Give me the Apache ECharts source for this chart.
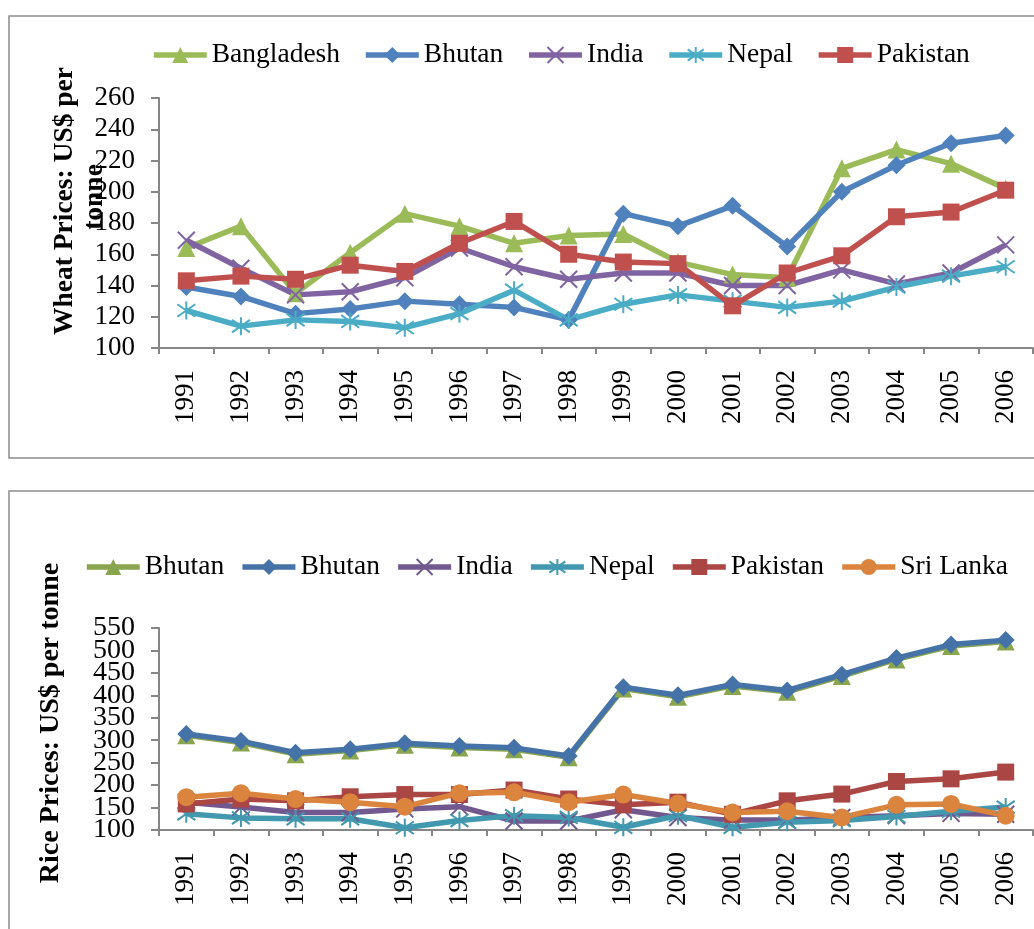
<!DOCTYPE html>
<html>
<head>
<meta charset="utf-8">
<script src="https://cdn.jsdelivr.net/npm/echarts@6/dist/echarts.min.js"></script>
<style>
  html, body { margin: 0; padding: 0; background: #fff; }
  #chart { width: 1034px; height: 929px; }
</style>
</head>
<body>
<div id="chart"></div>
<script>
// ---- Data ----
var years = ['1991','1992','1993','1994','1995','1996','1997','1998','1999','2000','2001','2002','2003','2004','2005','2006'];

var wheatBangladesh = [164, 178, 135, 161, 186, 178, 167, 172, 173, 155, 147, 145, 215, 227, 218, 202];
var wheatBhutan     = [139, 133, 122, 125, 130, 128, 126, 118, 186, 178, 191, 165, 200, 217, 231, 236];
var wheatIndia      = [169, 151, 134, 136, 145, 164, 152, 144, 148, 148, 140, 140, 150, 141, 148, 166];
var wheatNepal      = [124, 114, 118, 117, 113, 122, 137, 118, 128, 134, 130, 126, 130, 139, 146, 152];
var wheatPakistan   = [143, 146, 144, 153, 149, 167, 181, 160, 155, 154, 127, 148, 159, 184, 187, 201];

var riceBhutanA  = [311, 295, 269, 277, 290, 284, 280, 262, 415, 397, 421, 408, 443, 480, 510, 520];
var riceBhutanB  = [314, 298, 272, 280, 293, 287, 283, 265, 418, 400, 424, 411, 446, 483, 513, 523];
var riceIndia    = [162, 151, 139, 139, 147, 152, 120, 120, 145, 128, 122, 122, 128, 132, 137, 135];
var riceNepal    = [136, 127, 125, 125, 105, 121, 132, 128, 106, 132, 106, 117, 121, 130, 142, 151];
var ricePakistan = [158, 169, 165, 174, 179, 179, 189, 169, 156, 162, 135, 165, 180, 208, 214, 229];
var riceSriLanka = [173, 182, 169, 162, 152, 182, 184, 162, 179, 159, 139, 142, 128, 156, 158, 132];

var wheatTicks = { min: 100, max: 260, interval: 20 };
var riceTicks  = { min: 100, max: 550, interval: 50 };
var riceTickLabels = ['100', '150', '200', '250', '300', '350', '400', '450', '500', '550'];

var wheatLabels = ['Bangladesh', 'Bhutan', 'India', 'Nepal', 'Pakistan'];
var riceLabels  = ['Bhutan', 'Bhutan', 'India', 'Nepal', 'Pakistan', 'Sri Lanka'];

var wheatTitle1 = 'Wheat Prices: US$ per';
var wheatTitle2 = 'tonne';
var riceTitle   = 'Rice Prices: US$ per tonne';

// ---- Styles ----
var FONT = 'Liberation Serif';
var AXIS_COLOR = '#868686';
var SYM_X = 'path://M0,0L10,10M10,0L0,10';
var SYM_AST = 'path://M5,0L5,10M0.7,1.5L9.3,8.5M9.3,1.5L0.7,8.5';

var nameMap = {};
function mk(id, label, data, color, symbol, size, gi, stroke) {
  nameMap[id] = label;
  var s = {
    name: id, type: 'line', data: data,
    xAxisIndex: gi, yAxisIndex: gi,
    symbol: symbol, symbolSize: size, showSymbol: true,
    lineStyle: { color: color, width: 5.5 },
    itemStyle: { color: color },
    emphasis: { disabled: true },
    animation: false
  };
  if (stroke) {
    s.itemStyle = { color: 'none', borderColor: color, borderWidth: 2 };
  }
  return s;
}

var wheatColors = ['#9BBB59', '#4F81BD', '#8064A2', '#4BACC6', '#C0504D'];
var riceColors  = ['#89A54E', '#4572A7', '#71588F', '#4198AF', '#AA4643', '#DB843D'];

var series = [
  mk('w0', wheatLabels[0], wheatBangladesh, wheatColors[0], 'triangle', 18, 0),
  mk('w1', wheatLabels[1], wheatBhutan, wheatColors[1], 'diamond', 18, 0),
  mk('w2', wheatLabels[2], wheatIndia, wheatColors[2], SYM_X, 17, 0, true),
  mk('w3', wheatLabels[3], wheatNepal, wheatColors[3], SYM_AST, 18, 0, true),
  mk('w4', wheatLabels[4], wheatPakistan, wheatColors[4], 'rect', 17, 0),
  mk('r0', riceLabels[0], riceBhutanA, riceColors[0], 'triangle', 18, 1),
  mk('r1', riceLabels[1], riceBhutanB, riceColors[1], 'diamond', 18, 1),
  mk('r2', riceLabels[2], riceIndia, riceColors[2], SYM_X, 17, 1, true),
  mk('r3', riceLabels[3], riceNepal, riceColors[3], SYM_AST, 18, 1, true),
  mk('r4', riceLabels[4], ricePakistan, riceColors[4], 'rect', 17, 1),
  mk('r5', riceLabels[5], riceSriLanka, riceColors[5], 'circle', 18, 1)
];

function xAxis(gi) {
  return {
    type: 'category', gridIndex: gi, data: years, boundaryGap: true,
    axisLine: { show: true, lineStyle: { color: AXIS_COLOR, width: 2 } },
    axisTick: { show: true, length: 6, interval: 0, lineStyle: { color: AXIS_COLOR, width: 2 } },
    axisLabel: { rotate: 90, interval: 0, margin: 22, fontSize: 27, fontFamily: FONT, color: '#000' },
    splitLine: { show: false }
  };
}
function yAxis(gi, t, fs, showLabels) {
  return {
    type: 'value', gridIndex: gi, position: 'left', min: t.min, max: t.max, interval: t.interval,
    axisLine: { show: true, lineStyle: { color: AXIS_COLOR, width: 2 } },
    axisTick: { show: true, length: 8, lineStyle: { color: AXIS_COLOR, width: 2 } },
    axisLabel: { show: showLabels, margin: 24, fontSize: fs, fontFamily: FONT, color: '#000',
                 showMinLabel: true, showMaxLabel: true, hideOverlap: false },
    splitLine: { show: false }
  };
}
// label-only axis for the crowded rice tick labels (same positions as the value ticks)
var riceLabelAxis = {
  type: 'category', gridIndex: 1, position: 'left', offset: 0,
  data: riceTickLabels, boundaryGap: false,
  axisLine: { show: false }, axisTick: { show: false }, splitLine: { show: false },
  axisLabel: { interval: 0, margin: 24, fontSize: 28, fontFamily: FONT, color: '#000' },
  silent: true
};

var legendCommon = {
  orient: 'horizontal', itemWidth: 53, itemHeight: 20, padding: 0,
  width: 1000,
  lineStyle: { width: 5.5 },
  textStyle: { fontSize: 27.5, fontFamily: FONT, color: '#000' },
  formatter: function (n) { return nameMap[n]; },
  selectedMode: false
};

var option = {
  backgroundColor: '#fff',
  animation: false,
  grid: [
    { left: 159, right: 1, top: 98, height: 250 },
    { left: 159, right: 1, top: 628, height: 202 }
  ],
  xAxis: [xAxis(0), xAxis(1)],
  yAxis: [yAxis(0, wheatTicks, 27, true), yAxis(1, riceTicks, 28, false), riceLabelAxis],
  legend: [
    Object.assign({}, legendCommon, { left: 151, top: 41, itemGap: 23, data: ['w0','w1','w2','w3','w4'] }),
    Object.assign({}, legendCommon, { left: 84, top: 553, itemGap: 15.5, data: ['r0','r1','r2','r3','r4','r5'] })
  ],
  graphic: [
    { type: 'rect', silent: true, z: -1, shape: { x: 9, y: 16, width: 1040, height: 442 },
      style: { fill: 'none', stroke: '#8c8c8c', lineWidth: 1.5 } },
    { type: 'rect', silent: true, z: -1, shape: { x: 9, y: 491, width: 1040, height: 460 },
      style: { fill: 'none', stroke: '#8c8c8c', lineWidth: 1.5 } },
    { type: 'text', silent: true, x: 65, y: 201, rotation: Math.PI / 2,
      style: { text: wheatTitle1, font: 'bold 27.5px "Liberation Serif"', fill: '#000', align: 'center', verticalAlign: 'middle' } },
    { type: 'text', silent: true, x: 95, y: 197, rotation: Math.PI / 2,
      style: { text: wheatTitle2, font: 'bold 27.5px "Liberation Serif"', fill: '#000', align: 'center', verticalAlign: 'middle' } },
    { type: 'text', silent: true, x: 51, y: 723, rotation: Math.PI / 2,
      style: { text: riceTitle, font: 'bold 28px "Liberation Serif"', fill: '#000', align: 'center', verticalAlign: 'middle' } }
  ],
  series: series
};

var chart = echarts.init(document.getElementById('chart'), null, { renderer: 'canvas' });
chart.setOption(option);
</script>
</body>
</html>
